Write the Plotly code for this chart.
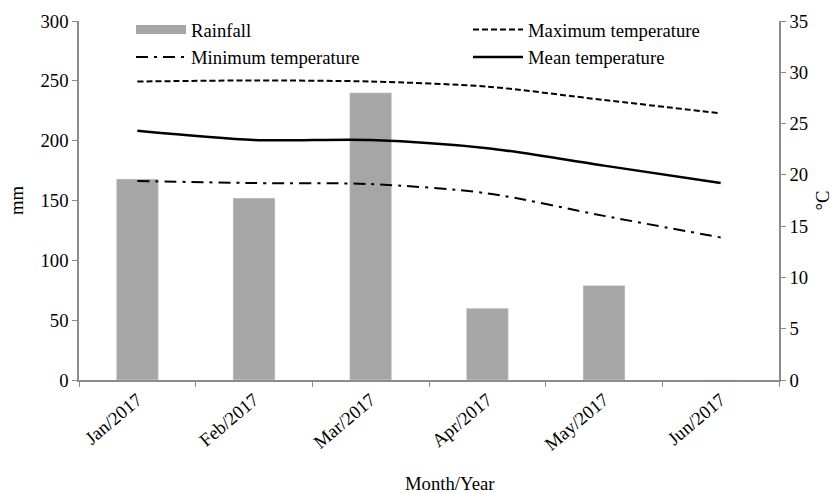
import plotly.graph_objects as go

months = ["Jan/2017", "Feb/2017", "Mar/2017", "Apr/2017", "May/2017", "Jun/2017"]
rainfall = [168, 152, 240, 60, 79, 0]
max_temp = [29.1, 29.2, 29.1, 28.6, 27.3, 26.0]
min_temp = [19.4, 19.2, 19.1, 18.2, 16.0, 13.9]
mean_temp = [24.3, 23.4, 23.4, 22.6, 20.9, 19.2]

FONT = "Liberation Serif"
AX = "#8c8c8c"
FS = 18.7

fig = go.Figure()
fig.add_trace(go.Bar(x=months, y=rainfall, marker_color="#a6a6a6", width=0.36,
                     showlegend=False, name="Rainfall"))
# legend swatch for rainfall
fig.add_trace(go.Scatter(x=[None], y=[None], mode="lines", name="Rainfall",
                         line=dict(color="#a6a6a6", width=9), legend="legend", legendgroup="a"))
fig.add_trace(go.Scatter(x=months, y=min_temp, mode="lines", name="Minimum temperature", yaxis="y2",
                         line=dict(color="black", width=2, dash="12px,6px,3px,6px", shape="spline", smoothing=0.8),
                         legend="legend", legendgroup="b"))
fig.add_trace(go.Scatter(x=months, y=max_temp, mode="lines", name="Maximum temperature", yaxis="y2",
                         line=dict(color="black", width=2, dash="6px,3px", shape="spline", smoothing=0.8),
                         legend="legend2", legendgroup="c"))
fig.add_trace(go.Scatter(x=months, y=mean_temp, mode="lines", name="Mean temperature", yaxis="y2",
                         line=dict(color="black", width=2.5, shape="spline", smoothing=0.8),
                         legend="legend2", legendgroup="d"))

LEG_Y = 1.028

fig.update_layout(
    width=833, height=493,
    margin=dict(l=79, r=54, t=21, b=113, autoexpand=False),
    paper_bgcolor="white", plot_bgcolor="white",
    font=dict(family=FONT, size=FS, color="black"),
    xaxis=dict(type="category", tickangle=-40, showline=True, linecolor=AX, linewidth=1.5,
               ticks="outside", tickson="boundaries", tickcolor=AX, ticklen=5, showgrid=False,
               tickfont=dict(size=FS, family=FONT), automargin=False),
    yaxis=dict(range=[0, 300], dtick=50, showline=True, linecolor=AX, linewidth=1.5,
               ticks="outside", tickcolor=AX, ticklen=5, showgrid=False, zeroline=False,
               tickfont=dict(size=FS, family=FONT), automargin=False,
               title=dict(text="mm", font=dict(size=FS, family=FONT), standoff=12)),
    yaxis2=dict(range=[0, 35], dtick=5, overlaying="y", side="right", showline=True, linecolor=AX,
                linewidth=1.5, ticks="outside", tickcolor=AX, ticklen=5, showgrid=False, zeroline=False,
                tickfont=dict(size=FS, family=FONT), automargin=False,
                title=dict(text="°C", font=dict(size=FS, family=FONT), standoff=25)),
    legend=dict(x=(131 - 79) / 700, y=LEG_Y, xanchor="left", yanchor="top", orientation="v",
                tracegroupgap=0, itemwidth=50,
                bgcolor="rgba(0,0,0,0)", font=dict(size=FS, family=FONT)),
    legend2=dict(x=(468 - 79) / 700, y=LEG_Y, xanchor="left", yanchor="top", orientation="v",
                 tracegroupgap=0, itemwidth=50,
                 bgcolor="rgba(0,0,0,0)", font=dict(size=FS, family=FONT)),
    annotations=[dict(text="Month/Year", x=(450 - 79) / 700, xref="paper", y=-(483 - 380) / 359,
                      yref="paper", yanchor="middle", showarrow=False, font=dict(size=FS, family=FONT))],
)

fig.write_html("out.html", config={"displayModeBar": False},
               post_script="document.body.style.margin='0';")
